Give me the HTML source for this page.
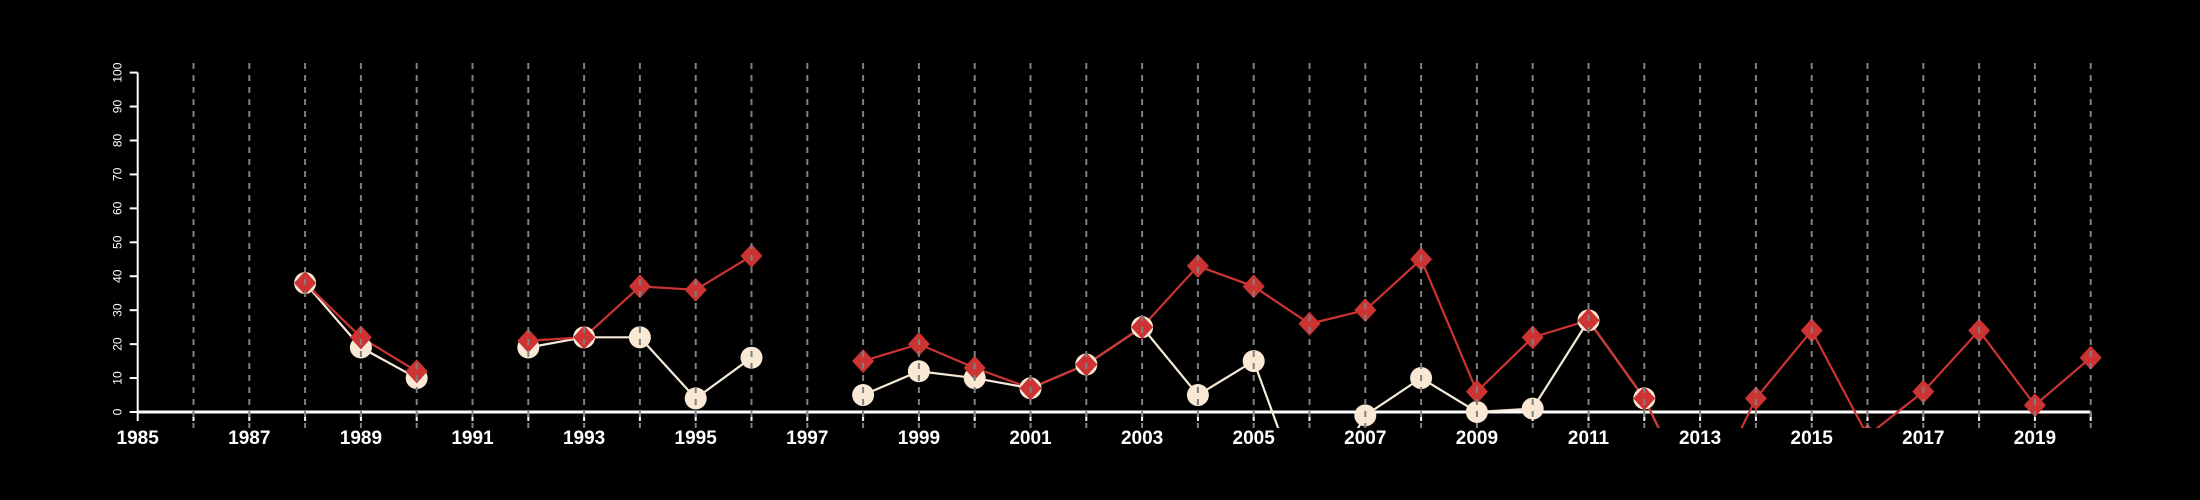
<!DOCTYPE html>
<html><head><meta charset="utf-8"><style>
html,body{margin:0;padding:0;background:#000;width:2200px;height:500px;overflow:hidden;}
svg{display:block;font-family:"Liberation Sans",sans-serif;}
</style></head><body>
<svg id="chart" width="2200" height="500" viewBox="0 0 2200 500">
<rect width="2200" height="500" fill="#000"/>
<defs><clipPath id="clip"><rect x="120" y="55" width="1990" height="373"/></clipPath></defs>
<g id="axes"></g>
<g id="series" clip-path="url(#clip)"></g>
<g id="grid"></g>
</svg>
<script>
const years = [1988,1989,1990,1991,1992,1993,1994,1995,1996,1997,1998,1999,2000,2001,2002,2003,2004,2005,2006,2007,2008,2009,2010,2011,2012,2013,2014,2015,2016,2017,2018,2019,2020];
const whiteVals = [38,19,10,null,19,22,22,4,16,null,5,12,10,7,14,25,5,15,-30,-1,10,0,1,27,4,-30,null,null,null,null,null,null,null];
const redVals = [38,22,12,null,21,22,37,36,46,null,15,20,13,7,14,25,43,37,26,30,45,6,22,27,4,-30,4,24,-7,6,24,2,16];
const yTicks = [0,10,20,30,40,50,60,70,80,90,100];
const xLabels = [1985,1987,1989,1991,1993,1995,1997,1999,2001,2003,2005,2007,2009,2011,2013,2015,2017,2019];

const NS="http://www.w3.org/2000/svg";
const x0=137.7, pxYear=55.8, y0=412, pxUnit=3.394;
const X=yr=>x0+(yr-1985)*pxYear;
const Y=v=>y0-v*pxUnit;
function mk(tag,attrs,parent){const e=document.createElementNS(NS,tag);for(const k in attrs)e.setAttribute(k,attrs[k]);parent.appendChild(e);return e;}
const grid=document.getElementById('grid'),axes=document.getElementById('axes'),series=document.getElementById('series');

for(let yr=1986;yr<=2020;yr++){
  const l=mk('line',{x1:X(yr),x2:X(yr),y1:63,y2:428,stroke:'#808080','stroke-width':2,'stroke-dasharray':'6,6'},grid);
  
  
}
const xa=mk('line',{x1:X(1985),x2:X(2020),y1:y0,y2:y0,stroke:'#fff','stroke-width':3},axes);


for(let yr=1985;yr<=2020;yr++){
  const t=mk('line',{x1:X(yr),x2:X(yr),y1:y0,y2:y0+9,stroke:'#fff','stroke-width':2},axes);
  
  
}
xLabels.forEach(yr=>{
  const t=mk('text',{x:X(yr),y:y0+32,fill:'#fff','font-size':19,'font-weight':'bold','text-anchor':'middle'},axes);
  t.textContent=yr;
  
  
});
const ya=mk('line',{x1:x0,x2:x0,y1:Y(0),y2:Y(100),stroke:'#fff','stroke-width':2},axes);


yTicks.forEach(v=>{
  const t=mk('line',{x1:x0-8,x2:x0,y1:Y(v),y2:Y(v),stroke:'#fff','stroke-width':2},axes);
  
  
  const lb=mk('text',{x:0,y:0,fill:'#fff','font-size':12,'text-anchor':'middle',transform:`translate(${x0-16},${Y(v)}) rotate(-90)`},axes);
  lb.textContent=v;
  
  
});

function drawLine(vals,color,name){
  let seg=[];
  const segs=[];
  vals.forEach((v,i)=>{if(v===null){if(seg.length)segs.push(seg);seg=[];}else seg.push([X(years[i]),Y(v)]);});
  if(seg.length)segs.push(seg);
  segs.forEach(s=>{
    const p=mk('polyline',{points:s.map(q=>q.join(',')).join(' '),fill:'none',stroke:color,'stroke-width':2.2},series);
    
    
  });
}
drawLine(whiteVals,'#f6ead8','white-series');
drawLine(redVals,'#cc3333','red-series');
whiteVals.forEach((v,i)=>{
  if(v===null)return;
  const c=mk('circle',{cx:X(years[i]),cy:Y(v),r:11,fill:'#f8e8d4'},series);
  
  
});
redVals.forEach((v,i)=>{
  if(v===null)return;
  const cx=X(years[i]),cy=Y(v);
  const d=mk('polygon',{points:`${cx},${cy-12} ${cx+11},${cy} ${cx},${cy+12} ${cx-11},${cy}`,fill:'#cc3333'},series);
  
  
});
</script>
</body></html>
